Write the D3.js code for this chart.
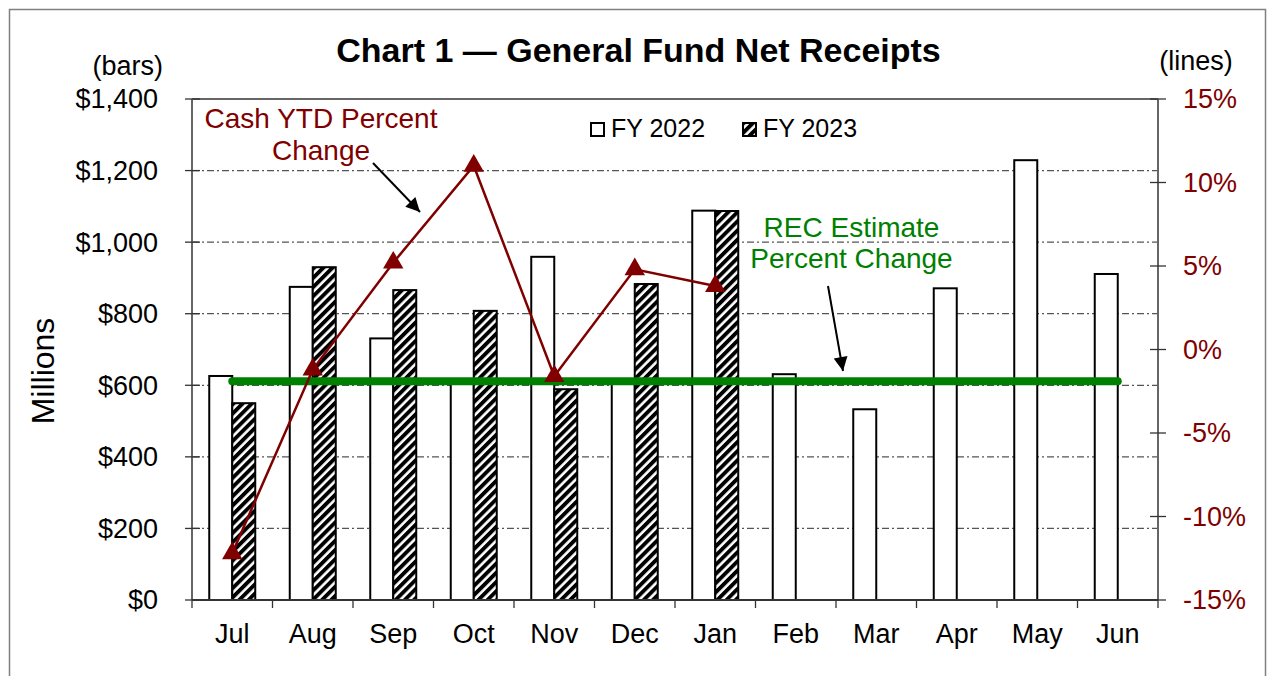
<!DOCTYPE html>
<html>
<head>
<meta charset="utf-8">
<script src="https://cdn.jsdelivr.net/npm/d3@7"></script>
<style>
  html, body { margin: 0; padding: 0; background: #fff; }
  svg { display: block; font-family: Arial, "Liberation Sans", sans-serif; }
</style>
</head>
<body>
<svg id="chart" width="1267" height="676"></svg>
<script>
// ---------------- data ----------------
const months = ["Jul", "Aug", "Sep", "Oct", "Nov", "Dec", "Jan", "Feb", "Mar", "Apr", "May", "Jun"];
const seriesNames = ["FY 2022", "FY 2023"];
const fy2022 = [626, 875, 731, 610, 959, 610, 1088, 631, 533, 871, 1229, 911];
const fy2023 = [550, 930, 866, 808, 589, 883, 1087, null, null, null, null, null];
const cashYtdPct = [-12.2, -1.2, 5.2, 11.0, -1.6, 4.8, 3.8];
const recEstimatePct = [-1.9, -1.9, -1.9, -1.9, -1.9, -1.9, -1.9, -1.9, -1.9, -1.9, -1.9, -1.9];
const leftTicks = [0, 200, 400, 600, 800, 1000, 1200, 1400];
const rightTicks = [-15, -10, -5, 0, 5, 10, 15];

// ---------------- layout ----------------
const svg = d3.select("#chart");
const L = 192, R = 1158, T = 99, B = 600;
const maroon = "#800000", green = "#008000", axisCol = "#666";

const x = d3.scaleBand().domain(months).range([L, R]).padding(0);
const x1 = d3.scaleBand().domain(seriesNames).range([0, x.bandwidth()]).paddingInner(0).paddingOuter(0.75);
const yL = d3.scaleLinear().domain([0, 1400]).range([B, T]);
const yR = d3.scaleLinear().domain([-15, 15]).range([B, T]);

// hatch pattern
const defs = svg.append("defs");
const pat = defs.append("pattern")
  .attr("id", "hatch").attr("patternUnits", "userSpaceOnUse")
  .attr("width", 6.5).attr("height", 6.5)
  .attr("patternTransform", "rotate(45)");
pat.append("rect").attr("width", 6.5).attr("height", 6.5).attr("fill", "#fff");
pat.append("rect").attr("width", 3.9).attr("height", 6.5).attr("fill", "#000");

// outer border
svg.append("rect").attr("x", 9.5).attr("y", 9.5).attr("width", 1256).attr("height", 720)
  .attr("fill", "none").attr("stroke", "#808080").attr("stroke-width", 1.5);

// title
svg.append("text").attr("x", 638.5).attr("y", 62).attr("text-anchor", "middle")
  .attr("font-size", 34).attr("font-weight", "bold").attr("fill", "#000")
  .text("Chart 1 \u2014 General Fund Net Receipts");

// gridlines (left axis)
svg.append("g").selectAll("line").data(leftTicks.filter(d => d > 0 && d < 1400)).join("line")
  .attr("x1", L).attr("x2", R).attr("y1", d => yL(d)).attr("y2", d => yL(d))
  .attr("stroke", "#555").attr("stroke-width", 1.2).attr("stroke-dasharray", "7,3,2,3");

// plot frame top
svg.append("line").attr("x1", L).attr("x2", R).attr("y1", T).attr("y2", T)
  .attr("stroke", axisCol).attr("stroke-width", 2);

// bars
const gBars = svg.append("g");
months.forEach((m, i) => {
  const v22 = fy2022[i], v23 = fy2023[i];
  if (v22 != null) {
    gBars.append("rect")
      .attr("x", x(m) + x1("FY 2022")).attr("y", yL(v22))
      .attr("width", x1.bandwidth()).attr("height", yL(0) - yL(v22))
      .attr("fill", "#fff").attr("stroke", "#000").attr("stroke-width", 2);
  }
  if (v23 != null) {
    gBars.append("rect")
      .attr("x", x(m) + x1("FY 2023")).attr("y", yL(v23))
      .attr("width", x1.bandwidth()).attr("height", yL(0) - yL(v23))
      .attr("fill", "url(#hatch)").attr("stroke", "#000").attr("stroke-width", 2);
  }
});

// axes lines
svg.append("line").attr("x1", L).attr("x2", L).attr("y1", T).attr("y2", B)
  .attr("stroke", axisCol).attr("stroke-width", 2);
svg.append("line").attr("x1", R).attr("x2", R).attr("y1", T).attr("y2", B)
  .attr("stroke", axisCol).attr("stroke-width", 2);
svg.append("line").attr("x1", L).attr("x2", R).attr("y1", B).attr("y2", B)
  .attr("stroke", "#333").attr("stroke-width", 2);

// left ticks and labels
const gl = svg.append("g");
gl.selectAll("line").data(leftTicks).join("line")
  .attr("x1", L - 7).attr("x2", L + 8).attr("y1", d => yL(d)).attr("y2", d => yL(d))
  .attr("stroke", "#333").attr("stroke-width", 1.3);
gl.selectAll("text").data(leftTicks).join("text")
  .attr("x", 158).attr("y", d => yL(d)).attr("dy", "0.35em").attr("text-anchor", "end")
  .attr("font-size", 27).attr("fill", "#000")
  .text(d => "$" + d3.format(",")(d));

// right ticks and labels
const gr = svg.append("g");
gr.selectAll("line").data(rightTicks).join("line")
  .attr("x1", R - 8).attr("x2", R + 8).attr("y1", d => yR(d)).attr("y2", d => yR(d))
  .attr("stroke", "#333").attr("stroke-width", 1.3);
gr.selectAll("text").data(rightTicks).join("text")
  .attr("x", 1183).attr("y", d => yR(d)).attr("dy", "0.35em").attr("text-anchor", "start")
  .attr("font-size", 27).attr("fill", maroon)
  .text(d => d + "%");

// bottom ticks (band boundaries) and labels
const bTicks = d3.range(months.length + 1).map(i => x.range()[0] + i * x.step());
svg.append("g").selectAll("line").data(bTicks).join("line")
  .attr("x1", d => d).attr("x2", d => d).attr("y1", B).attr("y2", B + 8)
  .attr("stroke", "#333").attr("stroke-width", 1.3);
svg.append("g").selectAll("text").data(months).join("text")
  .attr("x", d => x(d) + x.bandwidth() / 2).attr("y", 643).attr("text-anchor", "middle")
  .attr("font-size", 27).attr("fill", "#000").text(d => d);

// axis titles
svg.append("text").attr("x", 163).attr("y", 75).attr("text-anchor", "end")
  .attr("font-size", 27).text("(bars)");
svg.append("text").attr("x", 1196).attr("y", 70).attr("text-anchor", "middle")
  .attr("font-size", 27).text("(lines)");
svg.append("text").attr("transform", "translate(54,371) rotate(-90)").attr("text-anchor", "middle")
  .attr("font-size", 32).text("Millions");

// legend
const lg = svg.append("g");
lg.append("rect").attr("x", 591).attr("y", 123).attr("width", 13).attr("height", 13)
  .attr("fill", "#fff").attr("stroke", "#000").attr("stroke-width", 2);
lg.append("text").attr("x", 611).attr("y", 137).attr("font-size", 25).text(seriesNames[0]);
lg.append("rect").attr("x", 743).attr("y", 123).attr("width", 13).attr("height", 13)
  .attr("fill", "url(#hatch)").attr("stroke", "#000").attr("stroke-width", 2);
lg.append("text").attr("x", 763).attr("y", 137).attr("font-size", 25).text(seriesNames[1]);

// REC estimate line
const cx = m => x(m) + x.bandwidth() / 2;
svg.append("path")
  .datum(recEstimatePct.map((v, i) => [cx(months[i]), yR(v)]))
  .attr("d", d3.line())
  .attr("fill", "none").attr("stroke", green).attr("stroke-width", 8).attr("stroke-linecap", "round");

// Cash YTD line
const cashPts = cashYtdPct.map((v, i) => [cx(months[i]), yR(v)]);
svg.append("path").datum(cashPts).attr("d", d3.line())
  .attr("fill", "none").attr("stroke", maroon).attr("stroke-width", 2.5);
svg.append("g").selectAll("path").data(cashPts).join("path")
  .attr("transform", d => `translate(${d[0]},${d[1]})`)
  .attr("d", d3.symbol(d3.symbolTriangle, 180))
  .attr("fill", maroon);

// annotations
defs.append("marker").attr("id", "arrowhead").attr("viewBox", "0 0 10 10")
  .attr("refX", 10).attr("refY", 5).attr("markerWidth", 16).attr("markerHeight", 14)
  .attr("markerUnits", "userSpaceOnUse").attr("orient", "auto")
  .append("path").attr("d", "M0,0 L10,5 L0,10 Z").attr("fill", "#000");

const a1 = svg.append("g").attr("fill", maroon).attr("font-size", 28).attr("text-anchor", "middle");
a1.append("text").attr("x", 321).attr("y", 128).text("Cash YTD Percent");
a1.append("text").attr("x", 321).attr("y", 160).text("Change");
svg.append("line").attr("x1", 373).attr("y1", 163).attr("x2", 420).attr("y2", 212)
  .attr("stroke", "#000").attr("stroke-width", 2).attr("marker-end", "url(#arrowhead)");

const a2 = svg.append("g").attr("fill", green).attr("font-size", 28).attr("text-anchor", "middle");
a2.append("text").attr("x", 851.5).attr("y", 237).text("REC Estimate");
a2.append("text").attr("x", 851.5).attr("y", 268).text("Percent Change");
svg.append("line").attr("x1", 828).attr("y1", 286).attr("x2", 843).attr("y2", 371)
  .attr("stroke", "#000").attr("stroke-width", 2).attr("marker-end", "url(#arrowhead)");
</script>
</body>
</html>
